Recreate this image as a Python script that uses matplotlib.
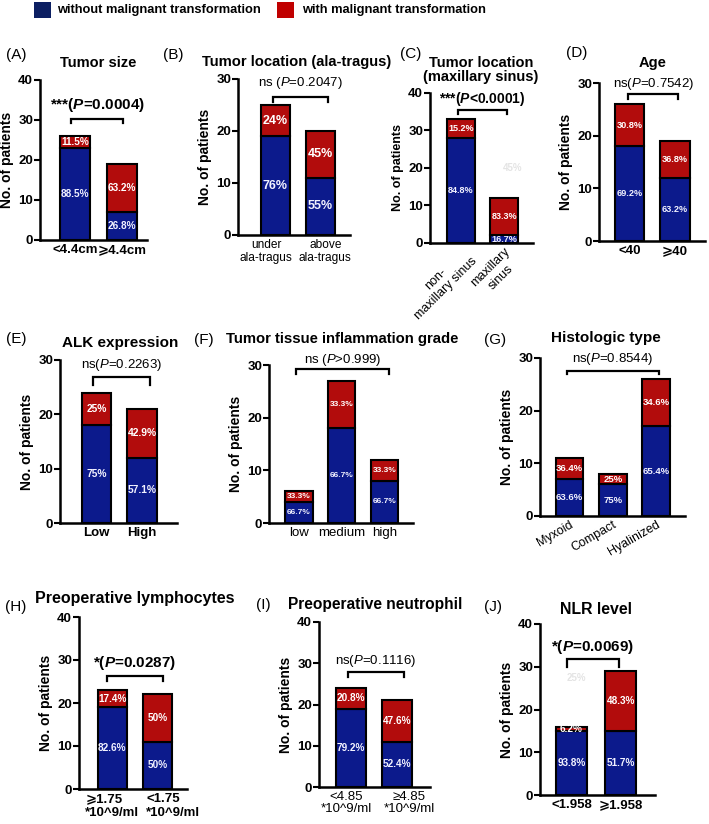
import matplotlib
matplotlib.use('Agg')
import matplotlib.pyplot as plt
from matplotlib.patches import Rectangle
from matplotlib.transforms import offset_copy

# ---- data (counts, labels as printed) ----
size_cats = ['<4.4cm', '\u2a7e4.4cm']
size_without = [23, 7]
size_with = [3, 12]
size_pct_without = ['88.5%', '26.8%']
size_pct_with = ['11.5%', '63.2%']

ala_cats = ['under\nala-tragus', 'above\nala-tragus']
ala_without = [19, 11]
ala_with = [6, 9]
ala_pct_without = ['76%', '55%']
ala_pct_with = ['24%', '45%']

sinus_cats = ['non-\nmaxillary sinus', 'maxillary\nsinus']
sinus_without = [28, 2]
sinus_with = [5, 10]
sinus_pct_without = ['84.8%', '16.7%']
sinus_pct_with = ['15.2%', '83.3%']

age_cats = ['<40', '\u2a7e40']
age_without = [18, 12]
age_with = [8, 7]
age_pct_without = ['69.2%', '63.2%']
age_pct_with = ['30.8%', '36.8%']

alk_cats = ['Low', 'High']
alk_without = [18, 12]
alk_with = [6, 9]
alk_pct_without = ['75%', '57.1%']
alk_pct_with = ['25%', '42.9%']

infl_cats = ['low', 'medium', 'high']
infl_without = [4, 18, 8]
infl_with = [2, 9, 4]
infl_pct_without = ['66.7%', '66.7%', '66.7%']
infl_pct_with = ['33.3%', '33.3%', '33.3%']

histo_cats = ['Myxoid', 'Compact', 'Hyalinized']
histo_without = [7, 6, 17]
histo_with = [4, 2, 9]
histo_pct_without = ['63.6%', '75%', '65.4%']
histo_pct_with = ['36.4%', '25%', '34.6%']

lym_cats = ['\u2a7e1.75\n*10^9/ml', '<1.75\n*10^9/ml']
lym_without = [19, 11]
lym_with = [4, 11]
lym_pct_without = ['82.6%', '50%']
lym_pct_with = ['17.4%', '50%']

neu_cats = ['<4.85\n*10^9/ml', '\u22654.85\n*10^9/ml']
neu_without = [19, 11]
neu_with = [5, 10]
neu_pct_without = ['79.2%', '52.4%']
neu_pct_with = ['20.8%', '47.6%']

nlr_cats = ['<1.958', '\u2a7e1.958']
nlr_without = [15, 15]
nlr_with = [1, 14]
nlr_pct_without = ['93.8%', '51.7%']
nlr_pct_with = ['6.2%', '48.3%']

# ---- styling ----
W, H = 709, 824
BLUE = '#0c1a8c'
RED = '#b20c0c'
plt.rcParams['font.family'] = ['Liberation Sans', 'DejaVu Sans']
plt.rcParams['mathtext.fontset'] = 'custom'
plt.rcParams['mathtext.rm'] = 'Liberation Sans'
plt.rcParams['mathtext.it'] = 'Liberation Sans:italic'
plt.rcParams['mathtext.bf'] = 'Liberation Sans:bold'
plt.rcParams['mathtext.bfit'] = 'Liberation Sans:italic:bold'

fig = plt.figure(figsize=(W / 100, H / 100), dpi=100)


def ftext(x, y, s, **kw):
    fig.text(x / W, 1 - y / H, s, **kw)


def draw_panel(rect, cats, without, withm, pct_wo, pct_w, ymax, xlim, pct_size,
               p_text, p_bold, brk, p_y, xt, ghost=None, ylab_size=10, p_size=None):
    x0, x1, ytop, ybot = rect
    ax = fig.add_axes([x0 / W, 1 - ybot / H, (x1 - x0) / W, (ybot - ytop) / H])
    xs = list(range(len(cats)))
    ax.bar(xs, without, width=0.64, color=BLUE, edgecolor='black', linewidth=1.5)
    ax.bar(xs, withm, bottom=without, width=0.64, color=RED, edgecolor='black', linewidth=1.5)
    for i in xs:
        ax.text(i, without[i] / 2, pct_wo[i], ha='center', va='center', color='#f2f2ff',
                fontsize=pct_size, fontweight='bold')
        ax.text(i, without[i] + withm[i] / 2, pct_w[i], ha='center', va='center', color='white',
                fontsize=pct_size, fontweight='bold')
    ax.set_xlim(*xlim)
    ax.set_ylim(0, ymax)
    ax.set_yticks(range(0, ymax + 1, 10))
    for s in ['top', 'right']:
        ax.spines[s].set_visible(False)
    for s in ['left', 'bottom']:
        ax.spines[s].set_linewidth(1.8)
    ax.tick_params(axis='y', width=1.5, length=4, labelsize=9.5, pad=1)
    for lab in ax.get_yticklabels():
        lab.set_fontweight('bold')
    ax.tick_params(axis='x', length=0, pad=xt.get('pad', 4))
    ax.set_xticks(xs)
    if xt.get('rot'):
        ax.set_xticklabels(cats, fontsize=xt['size'], fontweight=xt['weight'],
                           rotation=xt['rot'], ha='right', va='top',
                           rotation_mode='anchor', multialignment='center')
    else:
        ax.set_xticklabels([])
        dxs = xt.get('dx', [0] * len(cats))
        for i in xs:
            tr = offset_copy(ax.get_xaxis_transform(), fig=fig, x=dxs[i], y=-4, units='dots')
            ax.text(i, 0, cats[i], transform=tr, ha='center', va='top',
                    fontsize=xt['size'], fontweight=xt['weight'],
                    multialignment=xt.get('malign', 'center'),
                    linespacing=xt.get('ls', 1.05), clip_on=False)
    ax.set_ylabel('No. of patients', fontsize=ylab_size, fontweight='bold', labelpad=3)
    bx0, bx1, bhi, blo = brk
    ax.plot([bx0, bx0, bx1, bx1], [blo, bhi, bhi, blo], color='black', lw=1.6,
            clip_on=False, solid_joinstyle='miter')
    ax.text((bx0 + bx1) / 2, p_y, p_text, ha='center', va='center',
            fontsize=p_size or (11 if p_bold else 9.5),
            fontweight='bold' if p_bold else 'normal', clip_on=False)
    if ghost:
        ax.text(ghost[0], ghost[1], ghost[2], ha='center', va='center', color='#e4e4e4',
                fontsize=7, fontweight='bold')
    return ax


# (A) Tumor size
draw_panel((40, 147, 80, 240), size_cats, size_without, size_with, size_pct_without, size_pct_with,
           40, (-0.745, 1.53), 7.2, r'***($\mathbfit{P}$=0.0004)', True,
           (-0.08, 1.02, 30.3, 29.2), 33.8, dict(size=9.5, weight='bold'))
# (B) Tumor location (ala-tragus)
draw_panel((238, 350, 79, 235), ala_cats, ala_without, ala_with, ala_pct_without, ala_pct_with,
           30, (-0.83, 1.66), 9, r'ns ($\mathit{P}$=0.2047)', False,
           (-0.06, 1.17, 26.6, 25.6), 29.2,
           dict(size=8.6, weight='normal', dx=[-9, 5], ls=1.1))
# (C) Tumor location (maxillary sinus)
draw_panel((430, 533, 93, 243), sinus_cats, sinus_without, sinus_with, sinus_pct_without,
           sinus_pct_with, 40, (-0.72, 1.67), 6.5, r'***($\mathbfit{P}$<0.0001)', True,
           (-0.08, 1.07, 35.5, 34.4), 38.4, dict(size=9, weight='normal', rot=45, pad=2),
           ghost=(1.2, 20, '45%'), ylab_size=9, p_size=10)
# (D) Age
draw_panel((599, 705, 83, 241), age_cats, age_without, age_with, age_pct_without, age_pct_with,
           30, (-0.67, 1.66), 6.6, r'ns($\mathit{P}$=0.7542)', False,
           (-0.03, 1.07, 28.0, 26.9), 29.9, dict(size=9.5, weight='bold'))
# (E) ALK expression
draw_panel((60, 177, 360, 523), alk_cats, alk_without, alk_with, alk_pct_without, alk_pct_with,
           30, (-0.8, 1.77), 7.4, r'ns($\mathit{P}$=0.2263)', False,
           (-0.08, 1.18, 26.9, 25.4), 29.1, dict(size=9.5, weight='bold'))
# (F) Tumor tissue inflammation grade
draw_panel((269, 413, 365, 523), infl_cats, infl_without, infl_with, infl_pct_without,
           infl_pct_with, 30, (-0.7, 2.67), 6, r'ns ($\mathit{P}$>0.999)', False,
           (-0.07, 2.11, 29.2, 28.3), 30.9, dict(size=9.5, weight='normal'))
# (G) Histologic type
draw_panel((540, 685, 358, 516), histo_cats, histo_without, histo_with, histo_pct_without,
           histo_pct_with, 30, (-0.68, 2.66), 6.8, r'ns($\mathit{P}$=0.8544)', False,
           (-0.06, 2.06, 27.5, 27.0), 29.8, dict(size=9, weight='normal', rot=30, pad=2))
# (H) Preoperative lymphocytes
draw_panel((79, 187, 617, 789), lym_cats, lym_without, lym_with, lym_pct_without, lym_pct_with,
           40, (-0.74, 1.66), 7.2, r'*($\mathbfit{P}$=0.0287)', True,
           (-0.12, 1.12, 26.3, 25.1), 29.3,
           dict(size=9.5, weight='bold', dx=[0, 16], malign='left', ls=1.2))
# (I) Preoperative neutrophil
draw_panel((319, 430, 622, 787), neu_cats, neu_without, neu_with, neu_pct_without, neu_pct_with,
           40, (-0.7, 1.72), 7.2, r'ns($\mathit{P}$=0.1116)', False,
           (-0.07, 1.15, 27.9, 26.7), 30.5,
           dict(size=9.5, weight='normal', dx=[-5, 12]))
# (J) NLR level
draw_panel((540, 655, 624, 795), nlr_cats, nlr_without, nlr_with, nlr_pct_without, nlr_pct_with,
           40, (-0.64, 1.7), 7.2, r'*($\mathbfit{P}$=0.0069)', True,
           (-0.09, 0.96, 31.8, 29.9), 34.6, dict(size=9.5, weight='bold'),
           ghost=(0.11, 27.4, '25%'))

# titles
title_kw = dict(fontweight='bold', ha='center', va='center')
ftext(98, 63, 'Tumor size', fontsize=10.5, **title_kw)
ftext(297, 62, 'Tumor location (ala-tragus)', fontsize=10.6, **title_kw)
ftext(481, 70, 'Tumor location\n(maxillary sinus)', fontsize=10.5, linespacing=1.0, **title_kw)
ftext(653, 63, 'Age', fontsize=10.5, **title_kw)
ftext(120, 343, 'ALK expression', fontsize=11, **title_kw)
ftext(342, 339, 'Tumor tissue inflammation grade', fontsize=10.7, **title_kw)
ftext(606, 338, 'Histologic type', fontsize=11, **title_kw)
ftext(135, 599, 'Preoperative lymphocytes', fontsize=11.5, **title_kw)
ftext(375, 605, 'Preoperative neutrophil', fontsize=11.2, **title_kw)
ftext(596, 610, 'NLR level', fontsize=11.4, **title_kw)

# panel letters
let_kw = dict(fontsize=11, ha='left', va='center')
for lx, ly, s in [(6, 55, '(A)'), (163, 55, '(B)'), (400, 54, '(C)'), (566, 53, '(D)'),
                  (6, 339, '(E)'), (194, 340, '(F)'), (484, 340, '(G)'),
                  (5, 607, '(H)'), (256, 605, '(I)'), (484, 607, '(J)')]:
    ftext(lx, ly, s, **let_kw)

# legend at the top
for (rx, color, tx, label) in [(34, '#0c1f62', 57, 'without malignant transformation'),
                               (277, '#c00000', 302, 'with malignant transformation')]:
    fig.add_artist(Rectangle((rx / W, 1 - 18 / H), 17 / W, 16 / H, transform=fig.transFigure,
                             facecolor=color, edgecolor='none'))
    ftext(tx, 10.5, label, fontsize=9.3, fontweight='bold', ha='left', va='center')

fig.savefig('out.png', dpi=100)
